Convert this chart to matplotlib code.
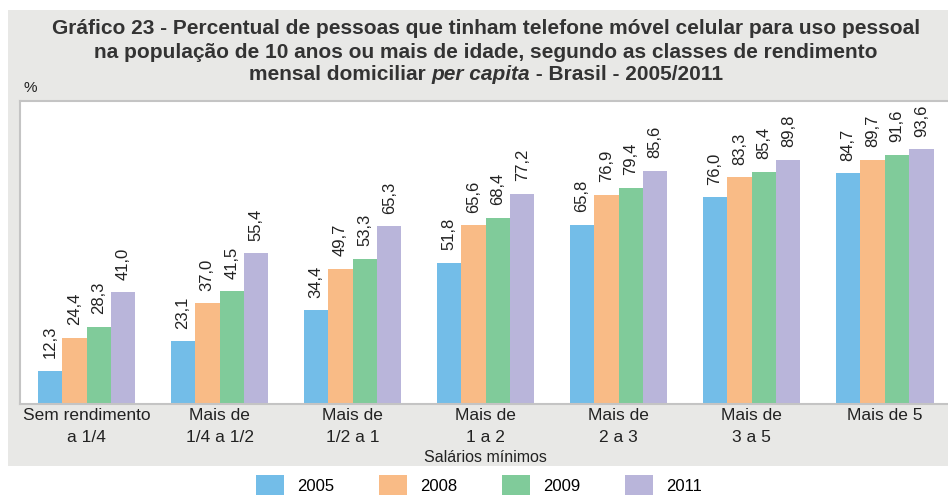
import numpy as np
import matplotlib.pyplot as plt
from matplotlib.patches import Rectangle, Patch

plt.rcParams['font.family'] = ['Liberation Sans', 'DejaVu Sans']

# Dados
classes = ['Sem rendimento\na 1/4', 'Mais de\n1/4 a 1/2', 'Mais de\n1/2 a 1', 'Mais de\n1 a 2',
           'Mais de\n2 a 3', 'Mais de\n3 a 5', 'Mais de 5']
anos = ['2005', '2008', '2009', '2011']
v2005 = [12.3, 23.1, 34.4, 51.8, 65.8, 76.0, 84.7]
v2008 = [24.4, 37.0, 49.7, 65.6, 76.9, 83.3, 89.7]
v2009 = [28.3, 41.5, 53.3, 68.4, 79.4, 85.4, 91.6]
v2011 = [41.0, 55.4, 65.3, 77.2, 85.6, 89.8, 93.6]
series = [v2005, v2008, v2009, v2011]
cores = ['#73bde8', '#f9bb86', '#80cb9a', '#b9b5da']

W, H = 948, 497
fig = plt.figure(figsize=(W / 100, H / 100), dpi=100)
fig.patch.set_facecolor('white')

# painel cinza
fig.patches.append(Rectangle((8 / W, 1 - 466 / H), 940 / W, 456 / H,
                             transform=fig.transFigure, facecolor='#e8e8e6',
                             edgecolor='none', zorder=-5))

ax = fig.add_axes([20 / W, 1 - 404 / H, 928 / W, 303 / H])
ax.set_zorder(1)
ax.set_facecolor('white')
x = np.arange(len(classes))
w = 0.184
for i, (vals, cor) in enumerate(zip(series, cores)):
    pos = x + (i - 1.5) * w
    ax.bar(pos, vals, width=w, color=cor, edgecolor='none')
    for p, v in zip(pos, vals):
        ax.annotate(f'{v:.1f}'.replace('.', ','), (p, v), xytext=(0, 9),
                    textcoords='offset points', rotation=90, ha='center',
                    va='bottom', fontsize=12, color='#222222')

ax.set_xlim(-0.5, 6.477)
ax.set_ylim(0, 111.3)
ax.set_yticks([])
ax.set_xticks(x)
ax.set_xticklabels(classes, fontsize=12.5, color='#222222', linespacing=1.55)
ax.tick_params(axis='x', length=0, pad=3)
for s in ax.spines.values():
    s.set_color('#c4c4c4')
    s.set_linewidth(1.5)
ax.spines['right'].set_visible(False)

fig.text(485 / W, 1 - 457 / H, 'Salários mínimos', ha='center', va='center',
         fontsize=11.5, color='#222222')
fig.text(24 / W, 1 - 88 / H, '%', ha='left', va='center', fontsize=11, color='#222222')

# título
tk = dict(fontsize=15, fontweight='bold', color='#333333', va='center')
fig.text(486 / W, 1 - 28 / H, 'Gráfico 23 - Percentual de pessoas que tinham telefone móvel celular para uso pessoal',
         ha='center', **tk)
fig.text(486 / W, 1 - 52 / H, 'na população de 10 anos ou mais de idade, segundo as classes de rendimento',
         ha='center', **tk)
partes = [('mensal domiciliar ', 'normal'), ('per capita', 'italic'), (' - Brasil - 2005/2011', 'normal')]
fig.canvas.draw()
r = fig.canvas.get_renderer()
objs = []
for txt, st in partes:
    t = fig.text(0, 1 - 75 / H, txt, ha='left', style=st, **tk)
    objs.append(t)
larg = [t.get_window_extent(r).width for t in objs]
x0 = 486 - sum(larg) / 2
for t, lw in zip(objs, larg):
    t.set_x(x0 / W)
    x0 += lw

handles = [Patch(facecolor=c, edgecolor='none') for c in cores]
fig.legend(handles, anos, loc='center', bbox_to_anchor=(479 / W, 1 - 485 / H),
           ncol=4, frameon=False, fontsize=12, handlelength=1.7, handleheight=1.45,
           handletextpad=0.8, columnspacing=2.65, borderaxespad=0)

fig.savefig('out.png', dpi=100, facecolor='white')
